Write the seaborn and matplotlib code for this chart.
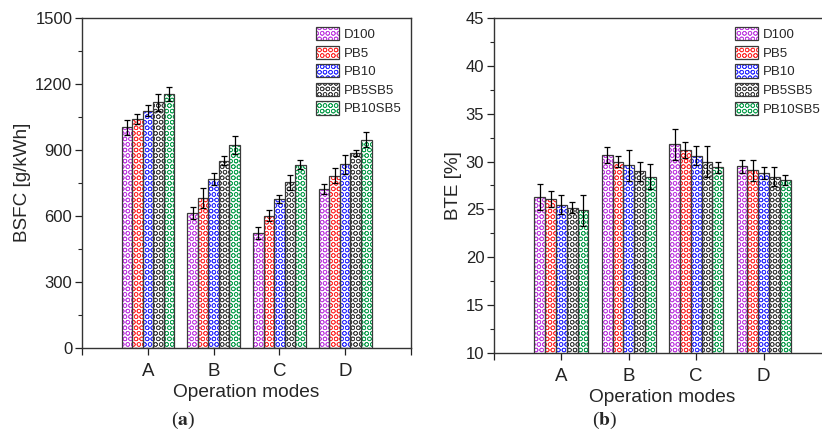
import numpy as np
import pandas as pd
import matplotlib
matplotlib.use('Agg')
import matplotlib.pyplot as plt
from matplotlib.patches import Patch, Rectangle
from matplotlib.ticker import AutoMinorLocator
import seaborn as sns

modes = ['A', 'B', 'C', 'D']
fuels = ['D100', 'PB5', 'PB10', 'PB5SB5', 'PB10SB5']
colors = ['#c040e0', '#ff3030', '#3030ff', '#404040', '#10a050']

# BSFC [g/kWh], one list per fuel over modes A-D
bsfc_d100 = [1001, 610, 521, 721]
bsfc_pb5 = [1039, 680, 600, 782]
bsfc_pb10 = [1077, 766, 676, 833]
bsfc_pb5sb5 = [1115, 850, 751, 885]
bsfc_pb10sb5 = [1153, 921, 832, 945]
bsfc_err_d100 = [35, 27, 29, 24]
bsfc_err_pb5 = [21, 45, 26, 33]
bsfc_err_pb10 = [25, 29, 18, 44]
bsfc_err_pb5sb5 = [38, 21, 33, 14]
bsfc_err_pb10sb5 = [33, 41, 21, 35]

# BTE [%]
bte_d100 = [26.3, 30.7, 31.8, 29.5]
bte_pb5 = [26.1, 30.0, 31.2, 29.1]
bte_pb10 = [25.5, 29.6, 30.6, 28.8]
bte_pb5sb5 = [25.2, 29.0, 30.0, 28.4]
bte_pb10sb5 = [24.9, 28.4, 29.4, 28.1]
bte_err_d100 = [1.4, 0.8, 1.6, 0.7]
bte_err_pb5 = [0.8, 0.6, 0.8, 1.1]
bte_err_pb10 = [1.0, 1.6, 1.0, 0.6]
bte_err_pb5sb5 = [0.6, 1.0, 1.6, 1.0]
bte_err_pb10sb5 = [1.6, 1.3, 0.6, 0.5]

bsfc = [bsfc_d100, bsfc_pb5, bsfc_pb10, bsfc_pb5sb5, bsfc_pb10sb5]
bsfc_err = [bsfc_err_d100, bsfc_err_pb5, bsfc_err_pb10, bsfc_err_pb5sb5, bsfc_err_pb10sb5]
bte = [bte_d100, bte_pb5, bte_pb10, bte_pb5sb5, bte_pb10sb5]
bte_err = [bte_err_d100, bte_err_pb5, bte_err_pb10, bte_err_pb5sb5, bte_err_pb10sb5]

sns.set_style('ticks')
plt.rcParams['font.family'] = ['Liberation Sans', 'DejaVu Sans']
plt.rcParams['hatch.linewidth'] = 0.5
plt.rcParams['mathtext.fontset'] = 'stix'

HATCH = 'OOO'
EDGE = '#3a3a3a'


def long_df(vals, errs):
    rows = []
    for f, v, e in zip(fuels, vals, errs):
        for m, vi, ei in zip(modes, v, e):
            rows.append({'mode': m, 'fuel': f, 'val': vi, 'err': ei})
    return pd.DataFrame(rows)


def draw(ax, vals, errs, ylim, yticks, ylabel):
    df = long_df(vals, errs)
    sns.barplot(data=df, x='mode', y='val', hue='fuel', hue_order=fuels,
                palette=colors, errorbar=None, width=0.8, gap=0,
                legend=False, ax=ax)
    bars = list(ax.patches)
    # seaborn orders patches hue-major
    for i, p in enumerate(bars):
        c = colors[i // len(modes)]
        p.set_facecolor('white')
        p.set_edgecolor(c)
        p.set_linewidth(0)
        p.set_hatch(HATCH)
        ax.add_patch(Rectangle((p.get_x(), p.get_y()), p.get_width(), p.get_height(),
                               fill=False, edgecolor=EDGE, linewidth=0.9, zorder=p.get_zorder() + 0.1))
    xs = [p.get_x() + p.get_width() / 2 for p in bars]
    ys = [p.get_height() for p in bars]
    ax.errorbar(xs, ys, yerr=df['err'].values, fmt='none', ecolor='black',
                elinewidth=0.9, capsize=2.5, capthick=0.9, zorder=5)
    ax.set_xlim(-1, 4)
    ax.set_xticks(range(-1, 5))
    ax.set_xticklabels([''] + modes + [''])
    ax.set_ylim(*ylim)
    ax.set_yticks(yticks)
    ax.yaxis.set_minor_locator(AutoMinorLocator(2))
    ax.tick_params(axis='both', which='major', direction='out', length=5, width=0.9,
                   labelsize=12, colors='#222222', pad=2)
    ax.tick_params(axis='x', labelsize=13.5, pad=6)
    ax.tick_params(axis='y', which='minor', direction='out', length=3, width=0.8)
    for s in ax.spines.values():
        s.set_visible(True)
        s.set_linewidth(1.0)
        s.set_color('#333333')
    ax.set_xlabel('Operation modes', fontsize=13.8, labelpad=3)
    ax.set_ylabel(ylabel, fontsize=13.6, labelpad=3)
    handles = [(Patch(facecolor='white', edgecolor=c, hatch=HATCH, linewidth=0),
                Patch(facecolor='none', edgecolor=EDGE, linewidth=0.9)) for c in colors]
    return handles


fig = plt.figure(figsize=(8.22, 4.34), dpi=100)
ax1 = fig.add_axes([0.0998, 0.1993, 0.4002, 0.760])
ax2 = fig.add_axes([0.601, 0.1866, 0.41, 0.772])

h1 = draw(ax1, bsfc, bsfc_err, (0, 1500), range(0, 1501, 300), 'BSFC [g/kWh]')
h2 = draw(ax2, bte, bte_err, (10, 45), range(10, 46, 5), 'BTE [%]')

leg_kw = dict(frameon=False, fontsize=9.5, handlelength=1.75, handleheight=1.15,
              labelspacing=0.35, handletextpad=0.4, borderaxespad=0.3)
ax1.legend(h1, fuels, loc='upper right', **leg_kw)
ax2.legend(h2, fuels, loc='upper right', bbox_to_anchor=(0.997, 1.0), **leg_kw)

fig.text(183 / 822, 1 - 420 / 434, r'($\mathbf{a}$)', ha='center', va='center',
         fontsize=14, family='Liberation Serif')
fig.text(605 / 822, 1 - 420 / 434, r'($\mathbf{b}$)', ha='center', va='center',
         fontsize=14, family='Liberation Serif')

fig.savefig('out.png', dpi=100)
